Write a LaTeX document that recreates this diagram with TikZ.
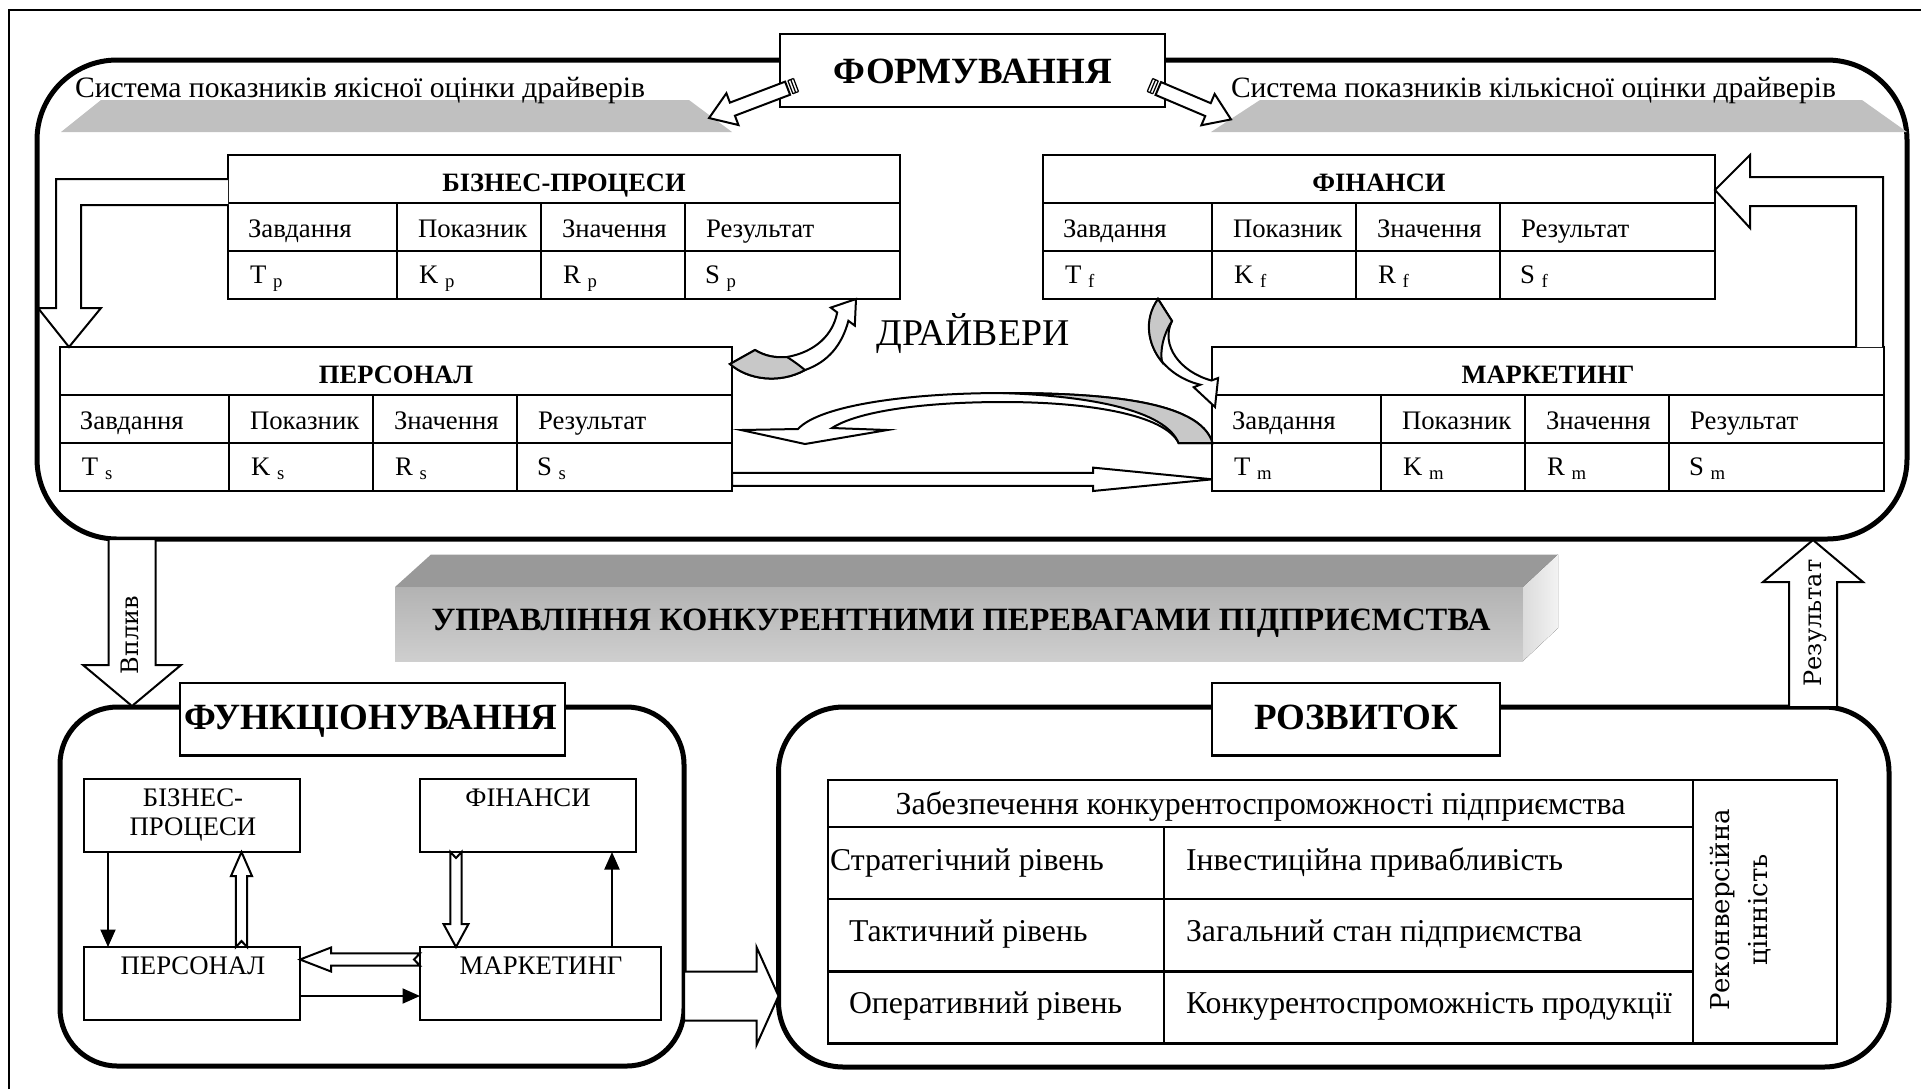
\documentclass[tikz,border=0pt]{standalone}
\usepackage{fontspec}
\setmainfont{Liberation Serif}
\newfontfamily\rotfont{DejaVu Serif}
\usetikzlibrary{fit,arrows.meta,calc}
\definecolor{trapgray}{HTML}{C0C0C0}
\definecolor{ribgray}{HTML}{C8C8C8}
\definecolor{topgray}{HTML}{999999}
\tikzset{
  every node/.style={inner sep=0pt, outer sep=0pt},
  cell/.style={anchor=base west, font={\fontsize{10.7}{12.8}\selectfont}},
  ctext/.style={anchor=base, font={\fontsize{10.7}{12.8}\selectfont}},
  tabtitle/.style={anchor=base, font={\bfseries\fontsize{10.6}{12.7}\selectfont}},
  bigtitle/.style={anchor=base, font={\bfseries\fontsize{14.8}{17.8}\selectfont}},
  rtext/.style={anchor=base west, font={\fontsize{12.7}{15.2}\selectfont}},
  rottext/.style={rotate=90, align=center, font={\rotfont\fontsize{9.6}{14.8}\selectfont}},
  bigbox/.style={draw, line width=2pt, rounded corners=#1},
  titlebox/.style={draw, line width=0.9pt, fill=white},
  smallbox/.style={draw, line width=0.8pt},
  blk/.style={draw, line width=0.8pt, fill=white, line join=miter},
  tabline/.style={line width=1pt},
  solidarrow/.style={line width=0.8pt, -{Triangle[length=7pt,width=6pt]}},
}
% table: name, x, y, title, subscript
\newcommand\drvtab[5]{%
  \node[fit={(#2,#3) (#2+672,#3+144)}, draw, line width=1pt, fill=white] (#1) {};
  \draw[tabline] (#2,#3+48) -- (#2+672,#3+48) (#2,#3+96) -- (#2+672,#3+96)
    (#2+169,#3+48) -- (#2+169,#3+144) (#2+313,#3+48) -- (#2+313,#3+144)
    (#2+457,#3+48) -- (#2+457,#3+144);
  \node[tabtitle] (#1t) at (#2+336,#3+36) {#4};
  \node[cell] (#1a) at (#2+20,#3+82) {Завдання};
  \node[cell] (#1b) at (#2+190,#3+82) {Показник};
  \node[cell] (#1c) at (#2+334,#3+82) {Значення};
  \node[cell] (#1d) at (#2+478,#3+82) {Результат};
  \node[cell] (#1e) at (#2+22,#3+128) {T \textsubscript{#5}};
  \node[cell] (#1f) at (#2+191,#3+128) {K \textsubscript{#5}};
  \node[cell] (#1g) at (#2+335,#3+128) {R \textsubscript{#5}};
  \node[cell] (#1h) at (#2+477,#3+128) {S \textsubscript{#5}};
}
% block arrow: tail point, angle, length, shaft half width, head half width, head length, notch
\newcommand\blockarrow[7]{%
  \begin{scope}[shift={#1}, rotate=#2]
    \draw[blk] (0,#4) -- (#3-#6,#4) -- (#3-#6,#5) -- (#3,0) -- (#3-#6,-#5)
      -- (#3-#6,-#4) -- (0,-#4) -- (#7,0) -- cycle;
  \end{scope}}
% striped arrow: tail point, angle, length
\newcommand\stripearrow[3]{%
  \begin{scope}[shift={#1}, rotate=#2]
    \draw[line width=0.5pt] (0,-7) -- (0,7) (3,-7) -- (3,7) (6,-7) -- (6,7)
      (0,-7) -- (6,-7) (0,7) -- (6,7);
    \draw[blk] (9,7) -- (#3-25,7) -- (#3-25,17) -- (#3,0) -- (#3-25,-17)
      -- (#3-25,-7) -- (9,-7) -- cycle;
  \end{scope}}
\begin{document}
\begin{tikzpicture}[x=0.4pt,y=-0.4pt]
\useasboundingbox (0,0) rectangle (1921,1089);
% outer frame
\draw[line width=0.9pt] (9,1089) -- (9,10) -- (1921,10);

% ===== FORMING =====
\node[fit={(37,60) (1907,539)}, bigbox=32pt] (form) {};
\fill[trapgray] (61,132) -- (101,100) -- (689,100) -- (732,132) -- cycle;
\fill[trapgray] (1211,132) -- (1260,100) -- (1862,100) -- (1907,132) -- cycle;
\node[anchor=base west, font={\fontsize{11.85}{14.2}\selectfont}] (sysq) at (75,97) {Система показників якісної оцінки драйверів};
\node[anchor=base west, font={\fontsize{11.8}{14.2}\selectfont}] (sysk) at (1231,97) {Система показників кількісної оцінки драйверів};
\node[fit={(780,34) (1165,107)}, titlebox] (formt) {};
\node[bigtitle] (formtx) at (973,83) {ФОРМУВАННЯ};
\stripearrow{(796,85)}{200.8}{93}
\stripearrow{(1150,85)}{-23}{88}

\drvtab{bp}{228}{155}{БІЗНЕС-ПРОЦЕСИ}{p}
\drvtab{fin}{1043}{155}{ФІНАНСИ}{f}
\drvtab{per}{60}{347}{ПЕРСОНАЛ}{s}
\drvtab{mar}{1212}{347}{МАРКЕТИНГ}{m}

% feedback block arrows
\draw[blk] (bp.west |- 0,179) -- (56,179) -- (56,308) -- (38,308) -- (69,347) -- (101,308) -- (81,308) -- (81,205) -- (bp.west |- 0,205);
\draw[blk] (mar.north -| 1883,0) -- (1883,177) -- (1750,177) -- (1750,155) -- (fin.east |- 0,190) -- (1750,228) -- (1750,206) -- (1856,206) -- (mar.north -| 1856,0);
% straight arrow personnel -> marketing
\blockarrow{(per.east |- 0,479.3)}{0}{480.5}{6.5}{11.7}{119.5}{0}

\node[anchor=base, font={\fontsize{15.1}{18}\selectfont}] (drv) at (973,345) {ДРАЙВЕРИ};

% curved arrow 1 (business processes <-> personnel)
\draw[blk] (730,364) -- (755,350) .. controls (765,356) and (775,358) .. (787,357)
  .. controls (815,352) and (833,335) .. (837.2,312.4) -- (830.8,307.6) -- (856,299)
  -- (854.8,325.6) -- (848.4,320.8) .. controls (842,345) and (828,362) .. (805,370)
  .. controls (780,384) and (748,380) .. cycle;
\filldraw[fill=ribgray, line width=0.8pt] (730,364) -- (755,350) .. controls (765,356) and (775,358) .. (787,357)
  .. controls (795,362) and (800,366) .. (805,370) .. controls (780,384) and (748,380) .. cycle;
% curved arrow 2 (finance -> marketing)
\draw[blk] (1158,299) -- (1172,321) .. controls (1160,345) and (1180,372) .. (1211.5,380.5)
  -- (1218.1,378) -- (1215,407) -- (1193.7,387.2) -- (1200.3,384.7)
  .. controls (1160,375) and (1135,335) .. cycle;
\filldraw[fill=ribgray, line width=0.8pt] (1158,299) -- (1172,321) .. controls (1163,335) and (1160,350) .. (1162,362)
  .. controls (1148,345) and (1143,320) .. cycle;
% curved arrow 3 (marketing -> personnel)
\draw[blk] (1212.5,443) .. controls (1200,400) and (1100,393) .. (1003,393)
  .. controls (910,393) and (820,405) .. (798,429) -- (741,430) -- (805,444) -- (887.5,430)
  -- (832,428) .. controls (860,410) and (930,402) .. (1003,402)
  .. controls (1090,402) and (1165,415) .. (1178.6,443) -- cycle;
\filldraw[fill=ribgray, line width=0.8pt] (1178.6,443) -- (1212.5,443) .. controls (1200,400) and (1100,393) .. (1003,393)
  .. controls (1090,396) and (1165,410) .. (1178.6,443) -- cycle;

% ===== banner =====
\fill[topgray] (395,587) -- (431,554.5) -- (1558,554.5) -- (1523,587) -- cycle;
\node[fit={(395,587) (1523,661)}, top color=black!30, bottom color=black!19] (banner) {};
\fill[left color=black!14, right color=black!5] (1523,587) -- (1558,554.5) -- (1558,628) -- (1523,661) -- cycle;
\node[anchor=base, font={\bfseries\fontsize{13}{15.6}\selectfont}] (bantx) at (961,630) {УПРАВЛІННЯ КОНКУРЕНТНИМИ ПЕРЕВАГАМИ ПІДПРИЄМСТВА};

% ===== FUNCTIONING =====
\node[fit={(60,707) (684,1066)}, bigbox=23pt] (func) {};
\blockarrow{(132,539)}{-90}{167}{23.5}{49}{41}{0}
\node[rottext] (vpl) at (130,635) {Вплив};
\node[fit={(180,683) (565,755.5)}, titlebox] (funct) {};
\node[bigtitle] (functx) at (371,729) {ФУНКЦІОНУВАННЯ};

\node[fit={(84,779) (300,852)}, smallbox] (fbp) {};
\node[fit={(420,779) (636,852)}, smallbox] (ffin) {};
\node[fit={(84,947) (300,1020)}, smallbox] (fper) {};
\node[fit={(420,947) (661,1020)}, smallbox] (fmar) {};
\node[ctext] (fbp1) at (193,806) {БІЗНЕС-};
\node[ctext] (fbp2) at (193,835.5) {ПРОЦЕСИ};
\node[ctext] (ffin1) at (528,806) {ФІНАНСИ};
\node[ctext] (fper1) at (193,974) {ПЕРСОНАЛ};
\node[ctext] (fmar1) at (541,974) {МАРКЕТИНГ};

\draw[solidarrow] ($(fbp.south west)+(24,0)$) -- ($(fper.north west)+(24,0)$);
\draw[solidarrow] ($(fmar.north west)+(192,0)$) -- ($(ffin.south west)+(192,0)$);
\draw[solidarrow] ($(fper.south east)+(0,-24)$) -- ($(fmar.south west)+(0,-24)$);
\blockarrow{($(fper.north west)+(157.5,0)$)}{90}{95}{5.6}{10.5}{24}{6}
\blockarrow{($(ffin.south west)+(36,0)$)}{-90}{95}{5.6}{12.5}{23}{6}
\blockarrow{($(fmar.north west)+(0,12.5)$)}{180}{120}{6.2}{12}{31}{6}

% ===== DEVELOPMENT =====
\node[fit={(778.5,707) (1889,1067)}, bigbox=26pt] (rozv) {};
\blockarrow{($(func.south east)+(0,-70)$)}{0}{94.5}{24.5}{49}{22}{0}
\blockarrow{(1813,707)}{90}{167}{24}{50}{42}{0}
\node[rottext] (rez) at (1815,623) {Результат};
\node[fit={(1212,683) (1500,755.5)}, titlebox] (rozt) {};
\node[bigtitle] (roztx) at (1356,729) {РОЗВИТОК};

\node[fit={(828,780) (1837,1043.6)}, draw, line width=1pt] (rzt) {};
\draw[tabline] (828,826.8) -- (1693,826.8) (828,899) -- (1693,899) (828,971.5) -- (1693,971.5)
  (1164,826.8) -- (1164,1043.6) (1693,780) -- (1693,1043.6);
\node[anchor=base, font={\fontsize{12.8}{15.3}\selectfont}] (rzh) at (1260.5,814) {Забезпечення конкурентоспроможності підприємства};
\node[rtext] (rz1) at (830,870) {Стратегічний рівень};
\node[rtext] (rz2) at (849,941) {Тактичний рівень};
\node[rtext] (rz3) at (849,1013) {Оперативний рівень};
\node[rtext] (rz4) at (1186,870) {Інвестиційна привабливість};
\node[rtext] (rz5) at (1186,941) {Загальний стан підприємства};
\node[rtext] (rz6) at (1186,1013) {Конкурентоспроможність продукції};
\node[rottext, font={\rotfont\fontsize{10.4}{15.2}\selectfont}] (rek) at (1741,910) {Реконверсійна\\цінність};
\end{tikzpicture}
\end{document}
